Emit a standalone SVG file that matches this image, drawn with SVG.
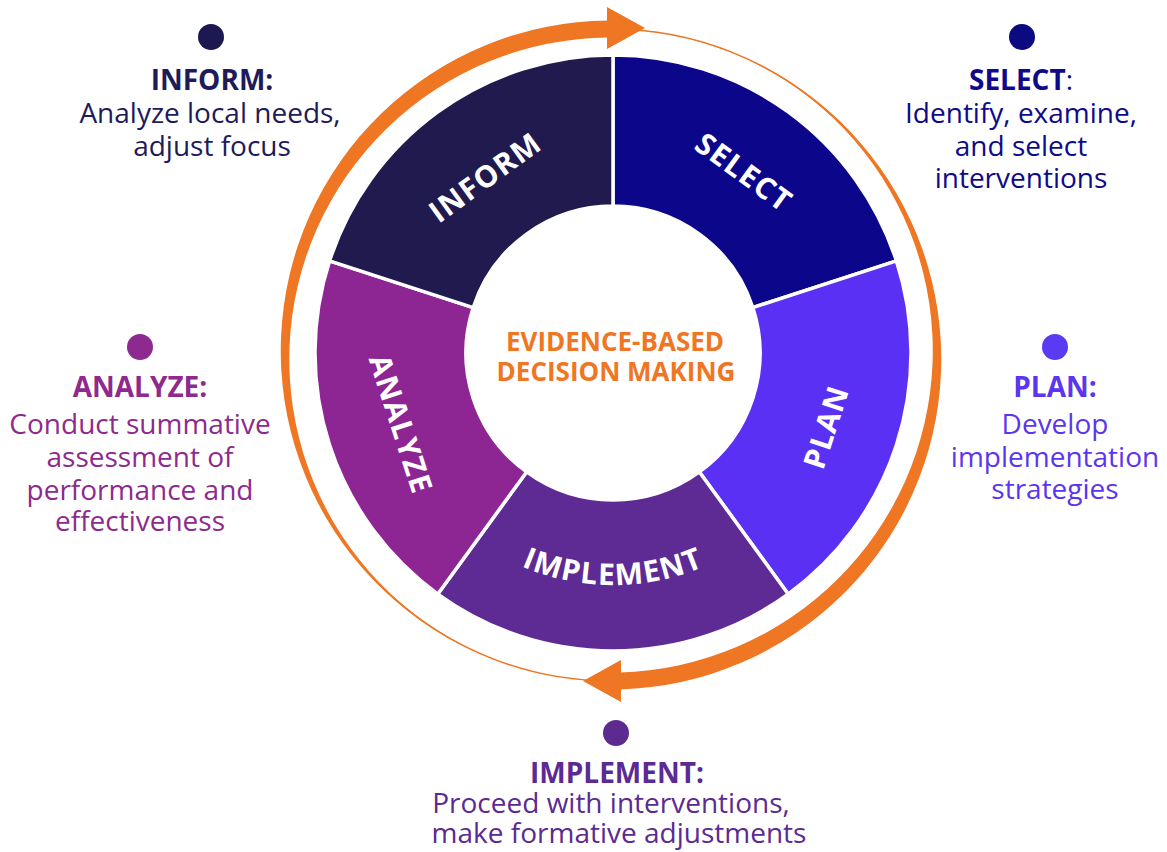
<svg xmlns="http://www.w3.org/2000/svg" width="1167" height="852" viewBox="0 0 1167 852">
<defs>
<style>
.seg{stroke:#ffffff;stroke-width:3.5;stroke-linejoin:miter}
.wl{font-family:"Open Sans","Liberation Sans",sans-serif;font-weight:700;font-size:30px;fill:#ffffff;letter-spacing:1.2px}
.ctr{font-family:"Open Sans","Liberation Sans",sans-serif;font-weight:700;font-size:26px;fill:#ef7622}
.t{font-family:"Open Sans","Liberation Sans",sans-serif;font-size:28px;text-anchor:middle}
.h{font-weight:700}
.orange{fill:#ef7622}
</style>
<path id="implPath" d="M 381 353 A 232 232 0 0 0 845 353"/>
</defs>
<rect width="1167" height="852" fill="#ffffff"/>

<g id="cycle-arrows">
<circle cx="611" cy="355" r="326" fill="none" stroke="#ef7622" stroke-width="1.5"/>
<path class="orange" d="M 582.22 679.74 A 330.25 330.25 0 0 1 608.12 20.51 L 608.19 37.51 A 321.75 321.75 0 0 0 582.96 679.77 Z"/>
<polygon class="orange" points="607,7 645,28 607,49"/>
<path class="orange" d="M 645.52 30.81 A 330.25 330.25 0 0 1 619.65 689.39 L 619.42 672.39 A 321.75 321.75 0 0 0 644.63 30.76 Z"/>
<polygon class="orange" points="621,660 583,681 621,702"/>
</g>

<g id="seg-select">
<path class="seg" fill="#0b068a" d="M 613 55 A 298 298 0 0 1 896.42 260.91 L 752.81 307.57 A 147 147 0 0 0 613 206 Z"/>
<text class="wl" text-anchor="middle" transform="translate(744,172) rotate(36)" dy="0.36em">SELECT</text>
</g>
<g id="seg-plan">
<path class="seg" fill="#5a30f5" d="M 896.42 260.91 A 298 298 0 0 1 788.16 594.09 L 699.40 471.93 A 147 147 0 0 0 752.81 307.57 Z"/>
<text class="wl" text-anchor="middle" transform="translate(826,427) rotate(-72)" dy="0.36em">PLAN</text>
</g>
<g id="seg-implement">
<path class="seg" fill="#5e2b95" d="M 788.16 594.09 A 298 298 0 0 1 437.84 594.09 L 526.60 471.93 A 147 147 0 0 0 699.40 471.93 Z"/>
<text class="wl"><textPath href="#implPath" startOffset="50%" text-anchor="middle">IMPLEMENT</textPath></text>
</g>
<g id="seg-analyze">
<path class="seg" fill="#8d2593" d="M 437.84 594.09 A 298 298 0 0 1 329.58 260.91 L 473.19 307.57 A 147 147 0 0 0 526.60 471.93 Z"/>
<text class="wl" text-anchor="middle" transform="translate(401,424) rotate(72)" dy="0.36em">ANALYZE</text>
</g>
<g id="seg-inform">
<path class="seg" fill="#201a4e" d="M 329.58 260.91 A 298 298 0 0 1 613 55 L 613 206 A 147 147 0 0 0 473.19 307.57 Z"/>
<text class="wl" text-anchor="middle" transform="translate(485,177) rotate(-36)" dy="0.36em">INFORM</text>
</g>

<g id="center">
<circle cx="613" cy="353" r="145" fill="#ffffff"/>
<text class="ctr" x="615" y="351" text-anchor="middle">EVIDENCE-BASED</text>
<text class="ctr" x="616" y="381" text-anchor="middle">DECISION MAKING</text>
</g>

<g id="label-inform" fill="#1e1b5a">
<circle cx="211" cy="37" r="13" fill="#1b1852"/>
<text class="t h" x="212" y="90">INFORM:</text>
<text class="t" x="210" y="123">Analyze local needs,</text>
<text class="t" x="212" y="156">adjust focus</text>
</g>

<g id="label-select" fill="#0e0a8a">
<circle cx="1022" cy="37" r="13" fill="#0c0a80"/>
<text class="t" x="1021" y="90"><tspan class="h">SELECT</tspan>:</text>
<text class="t" x="1021" y="123">Identify, examine,</text>
<text class="t" x="1021" y="156">and select</text>
<text class="t" x="1021" y="188">interventions</text>
</g>

<g id="label-plan" fill="#5b35f0">
<circle cx="1055" cy="347" r="13" fill="#5a3af2"/>
<text class="t h" x="1055" y="397">PLAN:</text>
<text class="t" x="1055" y="434">Develop</text>
<text class="t" x="1055" y="467">implementation</text>
<text class="t" x="1055" y="499">strategies</text>
</g>

<g id="label-analyze" fill="#8e2a8e">
<circle cx="140" cy="347" r="13" fill="#8c2a90"/>
<text class="t h" x="140" y="397">ANALYZE:</text>
<text class="t" x="140" y="434">Conduct summative</text>
<text class="t" x="140" y="467">assessment of</text>
<text class="t" x="140" y="500">performance and</text>
<text class="t" x="140" y="531">effectiveness</text>
</g>

<g id="label-implement" fill="#5b2a92">
<circle cx="616" cy="733" r="13" fill="#5d2a90"/>
<text class="t h" x="617" y="783">IMPLEMENT:</text>
<text class="t" x="611" y="813">Proceed with interventions,</text>
<text class="t" x="619" y="843">make formative adjustments</text>
</g>
</svg>
